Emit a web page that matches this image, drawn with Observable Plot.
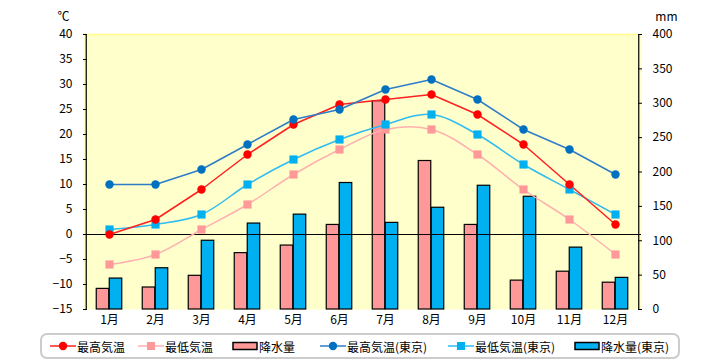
<!DOCTYPE html>
<html>
<head>
<meta charset="utf-8">
<script src="https://cdn.jsdelivr.net/npm/d3@7"></script>
<script src="https://cdn.jsdelivr.net/npm/@observablehq/plot@0.6"></script>
<style>
  body { margin: 0; background: #fff; font-family: "Noto Sans CJK JP", sans-serif; }
  #chart { width: 720px; height: 360px; position: relative; }
  #legend { position: absolute; left: 40px; top: 333px; width: 636px; height: 22px;
    border: 2px solid #cccccc; border-radius: 7px; font-size: 12px; color: #000; }
  .item { position: absolute; top: 0; height: 22px; display: flex; align-items: center; white-space: nowrap; }
  .item svg { display: block; }
</style>
</head>
<body>
<div id="chart"></div>
<script>
const months = ["1月","2月","3月","4月","5月","6月","7月","8月","9月","10月","11月","12月"];
const highLocal   = [0, 3, 9, 16, 22, 26, 27, 28, 24, 18, 10, 2];
const lowLocal    = [-6, -4, 1, 6, 12, 17, 21, 21, 16, 9, 3, -4];
const precipLocal = [30, 32, 49, 82, 93, 123, 303, 216, 123, 42, 55, 39];
const highTokyo   = [10, 10, 13, 18, 23, 25, 29, 31, 27, 21, 17, 12];
const lowTokyo    = [1, 2, 4, 10, 15, 19, 22, 24, 20, 14, 9, 4];
const precipTokyo = [45, 60, 100, 125, 138, 184, 126, 148, 180, 164, 90, 46];
const tempTicks   = [-15, -10, -5, 0, 5, 10, 15, 20, 25, 30, 35, 40];
const mmTicks     = [0, 50, 100, 150, 200, 250, 300, 350, 400];

const seriesNames = ["最高気温","最低気温","降水量","最高気温(東京)","最低気温(東京)","降水量(東京)"];
const C = {
  high: "#ff0000", highLine: "#ff2020",
  low: "#ff9999", lowLine: "#ffb0b0",
  barLocal: "#ff9999",
  highT: "#0070c0", highTLine: "#2e7cc8",
  lowT: "#00b0f0", lowTLine: "#30bcf0",
  barT: "#00b0f0"
};

const tMin = -15, tMax = 40, pMax = 400;
const toT = p => tMin + p * (tMax - tMin) / pMax;
const toP = t => (t - tMin) * pMax / (tMax - tMin);

const rows = months.map((m, i) => ({
  month: m, hi: highLocal[i], lo: lowLocal[i], pr: precipLocal[i],
  hiT: highTokyo[i], loT: lowTokyo[i], prT: precipTokyo[i]
}));

const font = "Noto Sans CJK JP";
const chart = Plot.plot({
  width: 720, height: 330,
  marginLeft: 83, marginRight: 79, marginTop: 34, marginBottom: 21,
  style: { fontFamily: font, fontSize: "12px", background: "transparent", color: "#000" },
  x: { type: "band", domain: months, padding: 0 },
  y: { domain: [tMin, tMax] },
  marks: [
    Plot.frame({ fill: "#ffffcc", stroke: null }),
    Plot.ruleY([tMax], { stroke: "#ffff88", strokeWidth: 1.5 }),
    Plot.barY(rows, { x: "month", y1: () => tMin, y2: d => toT(d.pr), fill: C.barLocal,
      stroke: "#000", strokeWidth: 1.2, insetLeft: 10.25, insetRight: 23.25 }),
    Plot.barY(rows, { x: "month", y1: () => tMin, y2: d => toT(d.prT), fill: C.barT,
      stroke: "#000", strokeWidth: 1.2, insetLeft: 23.25, insetRight: 10.25 }),
    Plot.ruleY([0], { stroke: "#000", strokeWidth: 1.2 }),
    Plot.line(rows, { x: "month", y: "lo", stroke: C.lowLine, strokeWidth: 1.5, curve: "catmull-rom" }),
    Plot.line(rows, { x: "month", y: "loT", stroke: C.lowTLine, strokeWidth: 1.5, curve: "catmull-rom" }),
    Plot.line(rows, { x: "month", y: "hi", stroke: C.highLine, strokeWidth: 1.5 }),
    Plot.line(rows, { x: "month", y: "hiT", stroke: C.highTLine, strokeWidth: 1.5 }),
    Plot.dot(rows, { x: "month", y: "lo", symbol: "square", r: 4.6, fill: C.low, stroke: null }),
    Plot.dot(rows, { x: "month", y: "loT", symbol: "square", r: 4.6, fill: C.lowT, stroke: null }),
    Plot.dot(rows, { x: "month", y: "hi", r: 4.2, fill: C.high, stroke: null }),
    Plot.dot(rows, { x: "month", y: "hiT", r: 4.2, fill: C.highT, stroke: null }),
    Plot.axisX({ tickSize: 0, tickPadding: 6, label: null }),
    Plot.axisY({ ticks: tempTicks, tickSize: 0, tickPadding: 11, label: null }),
    Plot.axisY({ ticks: tempTicks, tickSize: -4, text: null, label: null }),
    Plot.axisY({ anchor: "right", ticks: mmTicks.map(toT), tickFormat: t => Math.round(toP(t)),
      tickSize: 0, tickPadding: 11, label: null }),
    Plot.axisY({ anchor: "right", ticks: mmTicks.map(toT), tickSize: -4, text: null, label: null }),
    Plot.ruleX([months[0]], { stroke: "#000", strokeWidth: 1.2, dx: -23.25 }),
    Plot.ruleX([months[11]], { stroke: "#000", strokeWidth: 1.2, dx: 23.25 }),
    Plot.text(["℃"], { frameAnchor: "top-left", dx: -26, dy: -22, fontSize: 12 }),
    Plot.text(["mm"], { frameAnchor: "top-right", dx: 36, dy: -22, fontSize: 12 })
  ]
});
const host = document.getElementById("chart");
host.appendChild(chart);

const legend = document.createElement("div");
legend.id = "legend";
function sym(kind, color, lineColor) {
  const w = 26, h = 14;
  if (kind === "bar") {
    return `<svg width="${w}" height="${h}"><rect x="1" y="3.5" width="${w-2}" height="7" fill="${color}" stroke="#000" stroke-width="1.5"/></svg>`;
  }
  const mk = kind === "circle"
    ? `<circle cx="${w/2}" cy="${h/2}" r="4.2" fill="${color}"/>`
    : `<rect x="${w/2-4}" y="${h/2-4}" width="8" height="8" fill="${color}"/>`;
  return `<svg width="${w}" height="${h}"><line x1="0" x2="${w}" y1="${h/2}" y2="${h/2}" stroke="${lineColor}" stroke-width="1.5"/>${mk}</svg>`;
}
// left offsets inside the legend box (box starts at x=42 incl. border)
const items = [
  [seriesNames[0], sym("circle", C.high, C.highLine), 8],
  [seriesNames[1], sym("square", C.low, C.lowLine), 96],
  [seriesNames[2], sym("bar", C.barLocal), 190],
  [seriesNames[3], sym("circle", C.highT, C.highTLine), 278],
  [seriesNames[4], sym("square", C.lowT, C.lowTLine), 406],
  [seriesNames[5], sym("bar", C.barT), 532]
];
legend.innerHTML = items.map(([name, s, left]) =>
  `<div class="item" style="left:${left}px">${s}<span style="margin-left:1px">${name}</span></div>`).join("");
host.appendChild(legend);
</script>
</body>
</html>
